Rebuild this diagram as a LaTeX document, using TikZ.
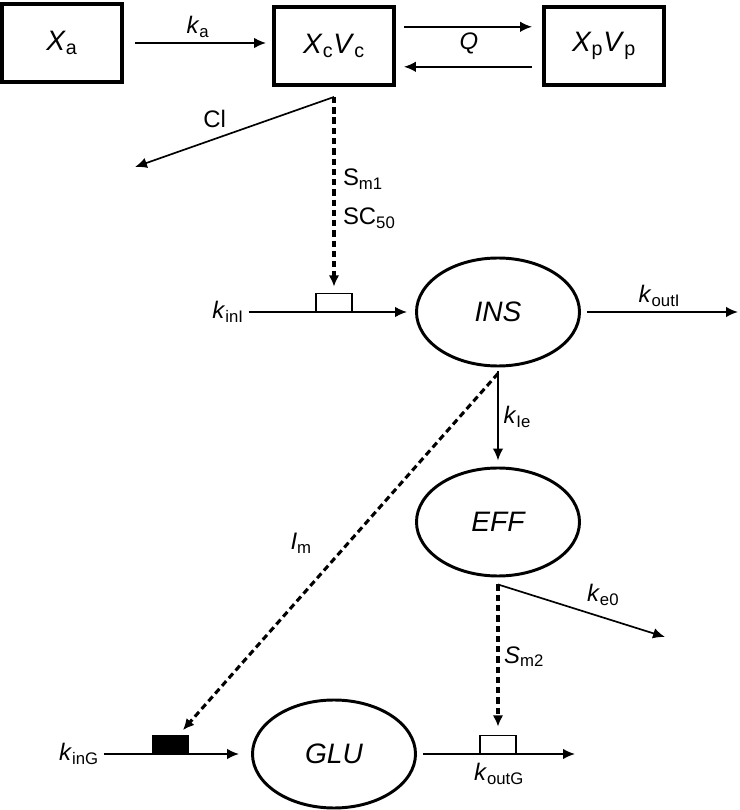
\documentclass[tikz,border=0pt]{standalone}
\usepackage{fontspec}
\setmainfont{Liberation Sans}
\usetikzlibrary{shapes.geometric,arrows.meta,positioning}
\tikzstyle{arrow} = [-{Latex[length=8.5pt,width=7.5pt]},line width=1.2pt]
\tikzstyle{dasharrow} = [-{Latex[length=8pt,width=7.5pt]},line width=2.2pt,dash pattern=on 4.5pt off 2.8pt]
\tikzstyle{comp} = [draw,line width=2.8pt,minimum width=3cm,minimum height=1.95cm,font=\fontsize{20}{24}\selectfont]
\tikzstyle{state} = [draw,ellipse,line width=2.1pt,minimum width=4.075cm,minimum height=2.7cm,font=\fontsize{20}{24}\selectfont\itshape]
\tikzstyle{gate} = [draw,fill=white,line width=1pt,minimum width=0.9cm,minimum height=0.45cm,inner sep=0pt,anchor=south]
\tikzstyle{lbl} = [font=\fontsize{17}{20}\selectfont]
\newcommand{\ksub}[2]{\textit{#1}\textsubscript{#2}}

\begin{document}
\begin{tikzpicture}
          \useasboundingbox (0,0) rectangle (18.5,20.25);
          % compartments
          \node[comp] at (1.55,19.175) (Xa) {\ksub{X}{a}};
          \node[comp] at (8.35,19.1) (Xc) {\ksub{X}{c}\ksub{V}{c}};
          \node[comp] at (15.1,19.1) (Xp) {\ksub{X}{p}\ksub{V}{p}};
          % turnover states
          \node[state] at (12.45,12.45) (INS) {INS};
          \node[state] at (12.45,7.2) (EFF) {EFF};
          \node[state] at (8.35,1.4) (GLU) {GLU};

          \coordinate (cl) at ([yshift=-0.25cm]Xc.south);
          \coordinate (clend) at (3.375,16.075);
          \coordinate (ke) at ([yshift=-0.175cm]EFF.south);
          \coordinate (keend) at (16.625,4.325);
          \coordinate (koutIend) at (18.45,12.45);
          \coordinate (koutGend) at (14.375,1.4);

          \node[lbl] at (5.7,12.45) (kinI) {\ksub{k}{inI}};
          \node[lbl] at (1.975,1.4) (kinG) {\ksub{k}{inG}};
          \node[gate] at (cl |- INS) (gateI) {};
          \node[gate,fill=black] at (4.26,1.4) (gateG) {};
          \node[gate] at (ke |- GLU) (gateO) {};

          \draw[arrow,shorten <=0.28cm,shorten >=0.15cm] (Xa) -- (Xa -| Xc.west) node[lbl,midway,above]{\ksub{k}{a}};
          \draw[arrow,shorten <=0.2cm,shorten >=0.25cm] ([yshift=0.48cm]Xc.east) -- ([yshift=0.48cm]Xp.west) node[lbl,midway,below]{\textit{Q}};
          \draw[arrow,shorten <=0.25cm,shorten >=0.2cm] ([yshift=-0.52cm]Xp.west) -- ([yshift=-0.52cm]Xc.east);
          \draw[arrow] (cl) -- (clend) node[lbl,pos=0.6,above=4pt]{Cl};
          \draw[dasharrow,shorten >=0.15cm] (cl) -- node[lbl,pos=0.42,right=2pt]{S\textsubscript{m1}} node[lbl,pos=0.62,right=2pt]{SC\textsubscript{50}} (gateI);

          \draw[arrow,shorten >=0.2cm] (kinI) -- (INS);
          \draw[arrow,shorten <=0.15cm] (INS) -- (koutIend) node[lbl,midway,above]{\ksub{k}{outI}};
          \draw[arrow,shorten <=0.1cm,shorten >=0.15cm] (INS) -- (EFF) node[lbl,midway,right]{\ksub{k}{Ie}};
          \draw[arrow] (ke) -- (keend) node[lbl,midway,above right]{\ksub{k}{e0}};
          \draw[dasharrow,shorten >=0.2cm] (ke) -- (gateO) node[lbl,pos=0.48,right]{\ksub{S}{m2}};
          \draw[dasharrow,shorten >=0.15cm] ([yshift=-0.15cm]INS.south) -- (gateG) node[lbl,pos=0.47,left=0.75cm]{\ksub{I}{m}};

          \draw[arrow,shorten >=0.3cm] (kinG) -- (GLU);
          \draw[arrow,shorten <=0.15cm] (GLU) -- (koutGend) node[lbl,pos=0.52,below=0.1cm]{\ksub{k}{outG}};
          % redraw gates over the flow lines
          \node[gate] at (cl |- INS) {};
          \node[gate,fill=black] at (4.26,1.4) {};
          \node[gate] at (ke |- GLU) {};
        \end{tikzpicture}
\end{document}
